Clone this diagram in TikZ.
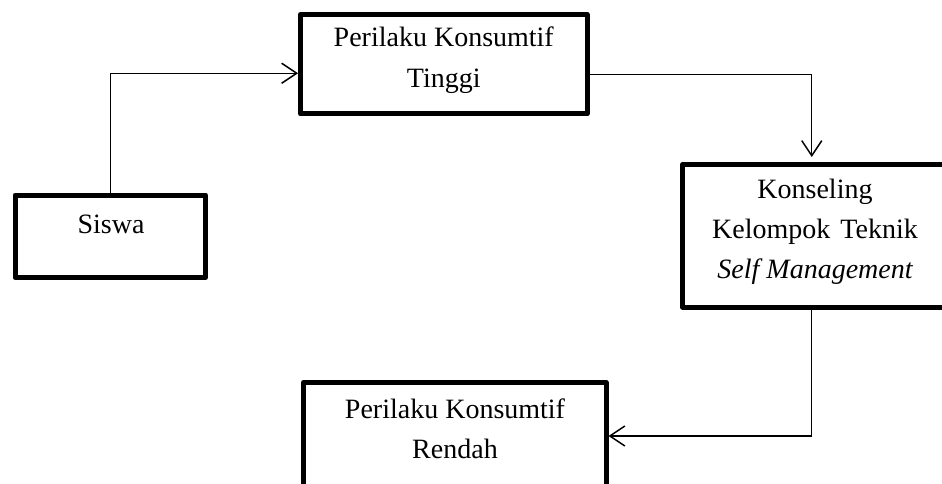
\documentclass[tikz,border=0pt]{standalone}
\usepackage{fontspec}
\setmainfont{Liberation Serif}
\usetikzlibrary{arrows.meta}
\begin{document}
\begin{tikzpicture}[x=1pt,y=-1pt,
  box/.style={draw=black, line width=5pt, line join=round, rectangle, inner sep=0pt, outer sep=0.5\pgflinewidth},
  conn/.style={draw=black, line width=1.3pt, -{Straight Barb[length=15pt,width=20pt,line width=1.5pt]}},
  txt/.style={anchor=base, inner sep=0pt, font=\fontsize{28}{40}\selectfont}]
\useasboundingbox (0,0) rectangle (942,484);
\clip (0,0) rectangle (942,484);
% boxes
\node[box, minimum width=190.5pt, minimum height=82.5pt] (siswa) at (110.25,236.25) {};
\node[box, minimum width=286.5pt, minimum height=99.5pt] (tinggi) at (443.75,64.25) {};
\node[box, minimum width=265.5pt, minimum height=142.5pt] (kons) at (815.25,235.75) {};
\node[box, minimum width=302.5pt, minimum height=107pt] (rendah) at (454.75,436) {};
% texts
\node[txt] (siswaT) at (111,233) {Siswa};
\node[txt] (tinggiA) at (443.75,47) {Perilaku Konsumtif};
\node[txt] (tinggiB) at (443.75,88) {Tinggi};
\node[txt] (konsA) at (815,198) {Konseling};
\node[txt] (konsB) at (815,238) {Kelompok\hspace{3pt} Teknik};
\node[txt] (konsC) at (815,278) {\itshape Self Management};
\node[txt] (rendahA) at (455,418) {Perilaku Konsumtif};
\node[txt] (rendahB) at (455,458) {Rendah};
% connectors
\draw[conn] (siswa.north) |- ([yshift=-9pt]tinggi.west);
\draw[conn] ([yshift=-10pt]tinggi.east) -| ([xshift=-3.5pt,yshift=5pt]kons.north);
\draw[conn] ([xshift=-3.5pt]kons.south) |- (rendah.east);
\end{tikzpicture}
\end{document}
